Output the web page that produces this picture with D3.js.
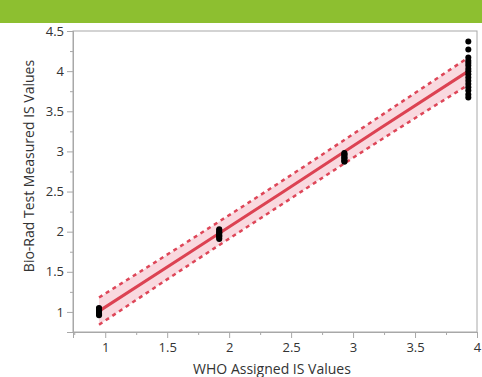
<!DOCTYPE html>
<html>
<head>
<meta charset="utf-8">
<script src="https://cdn.jsdelivr.net/npm/d3@7"></script>
<style>
  body { margin: 0; background: #fff; }
  svg { display: block; font-family: "Open Sans", "Noto Sans", sans-serif; }
</style>
</head>
<body>
<div id="chart"></div>
<script>
// measured values per WHO level (x = assigned, y = measured)
const levelX = [0.95, 1.92, 2.93, 3.93];
const measured = [
  [0.96, 0.97, 0.98, 0.99, 1.0, 1.01, 1.02, 1.03, 1.04, 1.05],
  [1.91, 1.92, 1.94, 1.95, 1.96, 1.98, 1.99, 2.0, 2.02, 2.03],
  [2.87, 2.88, 2.89, 2.91, 2.92, 2.93, 2.95, 2.96, 2.97, 2.98],
  [3.67, 3.71, 3.76, 3.8, 3.84, 3.88, 3.92, 3.96, 4.0, 4.03, 4.07, 4.1, 4.13, 4.17, 4.27, 4.37]
];

// fit line and band
const fitX = [0.95, 1.7, 2.44, 3.2, 3.93];
const fitY = [1.01, 1.76, 2.5, 3.27, 4.0];
const upperY = [1.18, 1.91, 2.645, 3.42, 4.17];
const lowerY = [0.84, 1.61, 2.355, 3.12, 3.83];

const xTicks = [1, 1.5, 2, 2.5, 3, 3.5, 4];
const yTicks = [1, 1.5, 2, 2.5, 3, 3.5, 4, 4.5];

const width = 482, height = 377;
const mLeft = 73, mRight = 477, mTop = 31, mBottom = 332;

const svg = d3.select("#chart").append("svg")
  .attr("width", width).attr("height", height);

// green header strip
svg.append("rect").attr("x", 0).attr("y", 0)
  .attr("width", width).attr("height", 23)
  .attr("fill", "#8dbf30");

const xScale = d3.scaleLinear().domain([0.74, 4.0]).range([mLeft, mRight]);
const yScale = d3.scaleLinear().domain([0.75, 4.5]).range([mBottom, mTop]);

// frame
svg.append("rect")
  .attr("x", mLeft).attr("y", mTop)
  .attr("width", mRight - mLeft).attr("height", mBottom - mTop)
  .attr("fill", "none").attr("stroke", "#a8a8a8").attr("stroke-width", 1);

const plot = svg.append("g");

const band = fitX.map((x, i) => ({ x: x, lo: lowerY[i], hi: upperY[i], y: fitY[i] }));

plot.append("path")
  .datum(band)
  .attr("d", d3.area().curve(d3.curveMonotoneX)
    .x(d => xScale(d.x)).y0(d => yScale(d.lo)).y1(d => yScale(d.hi)))
  .attr("fill", "#f9d9df");

["lo", "hi"].forEach(k => {
  plot.append("path")
    .datum(band)
    .attr("d", d3.line().curve(d3.curveMonotoneX)
      .x(d => xScale(d.x)).y(d => yScale(d[k])))
    .attr("fill", "none")
    .attr("stroke", "#de4658")
    .attr("stroke-width", 2.5)
    .attr("stroke-dasharray", "4,4");
});

plot.append("path")
  .datum(band)
  .attr("d", d3.line().x(d => xScale(d.x)).y(d => yScale(d.y)))
  .attr("fill", "none")
  .attr("stroke", "#dc4252")
  .attr("stroke-width", 3);

// points
const pts = [];
measured.forEach((ys, i) => ys.forEach(y => pts.push([levelX[i], y])));
plot.selectAll("circle.pt")
  .data(pts)
  .enter().append("circle")
  .attr("class", "pt")
  .attr("cx", d => xScale(d[0]))
  .attr("cy", d => yScale(d[1]))
  .attr("r", 3)
  .attr("fill", "#000");

// axes
const xAxis = svg.append("g")
  .attr("transform", `translate(0,${mBottom})`)
  .call(d3.axisBottom(xScale).tickValues(xTicks).tickSize(6).tickPadding(5)
    .tickFormat(d3.format("")));
const xMinor = svg.append("g")
  .attr("transform", `translate(0,${mBottom})`)
  .call(d3.axisBottom(xScale).tickValues([0.75, 1.25, 1.75, 2.25, 2.75, 3.25, 3.75]).tickSize(3).tickFormat(""));

const yAxis = svg.append("g")
  .attr("transform", `translate(${mLeft},0)`)
  .call(d3.axisLeft(yScale).tickValues(yTicks).tickSize(6).tickPadding(3)
    .tickFormat(d3.format("")));
const yMinor = svg.append("g")
  .attr("transform", `translate(${mLeft},0)`)
  .call(d3.axisLeft(yScale).tickValues([0.75, 1.25, 1.75, 2.25, 2.75, 3.25, 3.75, 4.25]).tickSize(3).tickFormat(""));

[xAxis, xMinor, yAxis, yMinor].forEach(g => {
  g.select(".domain").attr("stroke", "#a8a8a8");
  g.selectAll(".tick line").attr("stroke", "#a8a8a8");
  g.selectAll(".tick text")
    .attr("fill", "#333")
    .style("font-size", "13px")
    .style("font-family", "\"Open Sans\", \"Noto Sans\", sans-serif");
});

svg.append("text")
  .attr("x", 272)
  .attr("y", 374)
  .attr("text-anchor", "middle")
  .attr("fill", "#333")
  .style("font-size", "14px")
  .text("WHO Assigned IS Values");

svg.append("text")
  .attr("transform", `translate(34,${166}) rotate(-90)`)
  .attr("text-anchor", "middle")
  .attr("fill", "#333")
  .style("font-size", "14px")
  .text("Bio-Rad Test Measured IS Values");
</script>
</body>
</html>
